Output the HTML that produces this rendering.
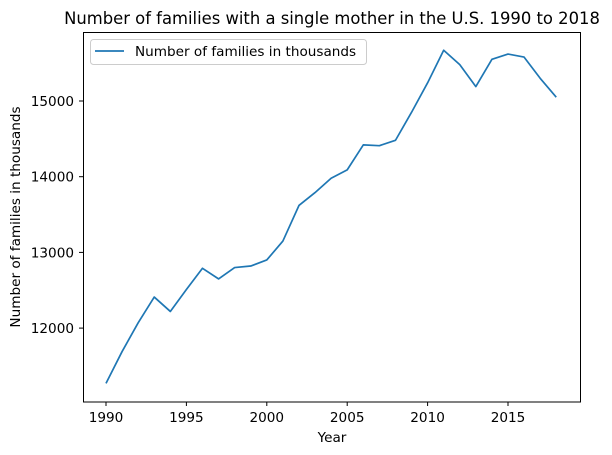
<!DOCTYPE html>
<html><head><meta charset="utf-8"><style>
html,body{margin:0;padding:0;background:#fff;}
svg{display:block;font-family:"DejaVu Sans","Liberation Sans",sans-serif;}
</style></head><body>
<svg id="chart" width="612" height="455" viewBox="0 0 612 455" xmlns="http://www.w3.org/2000/svg">
<rect width="612" height="455" fill="#fff"/>
<text x="332" y="24" text-anchor="middle" font-size="16.4" fill="#000">Number of families with a single mother in the U.S. 1990 to 2018</text>
<g id="xticks"></g>
<g id="yticks"></g>
<path id="line" fill="none" stroke="#1f77b4" stroke-width="1.7" stroke-linejoin="round"/>
<rect x="83.5" y="32.5" width="497" height="369.5" fill="none" stroke="#000" stroke-width="1"/>
<text x="332" y="442" text-anchor="middle" font-size="13.6" fill="#000">Year</text>
<text transform="translate(20,217) rotate(-90)" text-anchor="middle" font-size="13.6" fill="#000">Number of families in thousands</text>
<g>
<rect x="90.5" y="39.5" width="276" height="25" rx="3" fill="#fff" stroke="#ccc"/>
<line x1="95" y1="51" x2="124" y2="51" stroke="#1f77b4" stroke-width="1.7"/>
<text x="135" y="56" font-size="13.6" fill="#000">Number of families in thousands</text>
</g>
</svg>
<script>
const years = [1990,1991,1992,1993,1994,1995,1996,1997,1998,1999,2000,2001,2002,2003,2004,2005,2006,2007,2008,2009,2010,2011,2012,2013,2014,2015,2016,2017,2018];
const families = [11270,11690,12070,12410,12220,12510,12790,12650,12800,12820,12900,13150,13620,13790,13980,14090,14420,14410,14480,14850,15240,15670,15480,15190,15550,15620,15580,15300,15050];
const xTickLabels = [1990,1995,2000,2005,2010,2015];
const yTickLabels = [12000,13000,14000,15000];
const NS = "http://www.w3.org/2000/svg";
function xs(v){return 106 + (v-1990)*16.08;}
function ys(v){return 101 + (15000-v)*0.0757;}
const xg = document.getElementById('xticks');
xTickLabels.forEach(t=>{
  const l=document.createElementNS(NS,'line');
  l.setAttribute('x1',xs(t));l.setAttribute('x2',xs(t));l.setAttribute('y1',402);l.setAttribute('y2',406);l.setAttribute('stroke','#000');
  
  
  xg.appendChild(l);
  const tx=document.createElementNS(NS,'text');
  tx.setAttribute('x',xs(t));tx.setAttribute('y',422);tx.setAttribute('text-anchor','middle');tx.setAttribute('font-size','13.6');
  tx.textContent=t;
  
  
  xg.appendChild(tx);
});
const yg = document.getElementById('yticks');
yTickLabels.forEach(t=>{
  const l=document.createElementNS(NS,'line');
  l.setAttribute('x1',79);l.setAttribute('x2',83);l.setAttribute('y1',ys(t));l.setAttribute('y2',ys(t));l.setAttribute('stroke','#000');
  
  
  yg.appendChild(l);
  const tx=document.createElementNS(NS,'text');
  tx.setAttribute('x',74);tx.setAttribute('y',ys(t)+5);tx.setAttribute('text-anchor','end');tx.setAttribute('font-size','13.6');
  tx.textContent=t;
  
  
  yg.appendChild(tx);
});
document.getElementById('line').setAttribute('d', years.map((y,i)=>(i?'L':'M')+xs(y)+','+ys(families[i])).join(' '));
</script>
</body></html>
